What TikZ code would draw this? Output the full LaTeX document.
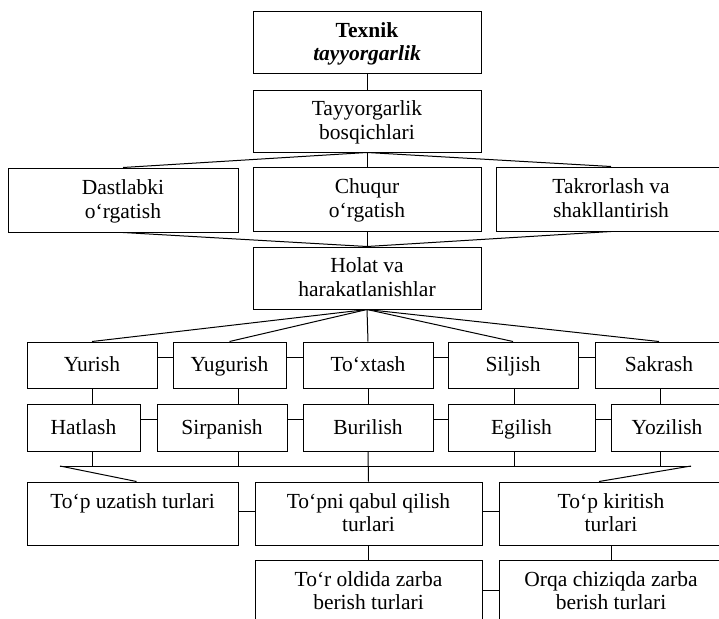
\documentclass[tikz,border=0pt]{standalone}
\usepackage{fontspec}
\setmainfont{Liberation Serif}
\newcommand{\st}{\rule[-5pt]{0pt}{23pt}}
\begin{document}
\begin{tikzpicture}[x=1pt,y=-1pt,
  box/.style={draw, line width=1pt, inner sep=0pt, align=center,
    font=\fontsize{21.5}{23.5}\selectfont},
  conn/.style={line width=1pt}]
\useasboundingbox (0,0) rectangle (719,618);
% top part
\node[box, minimum width=228, minimum height=61] (top) at (367,42.5) {\st\textbf{Texnik}\\\st\textbf{\textit{tayyorgarlik}}};
\node[box, minimum width=228, minimum height=62] (b2) at (367,121) {\st Tayyorgarlik\\\st bosqichlari};
\node[box, minimum width=230, minimum height=64] (dast) at (123,200) {\st Dastlabki\\\st o‘rgatish};
\node[box, minimum width=228, minimum height=64] (chuq) at (367,199) {\st Chuqur\\\st o‘rgatish};
\node[box, minimum width=230, minimum height=64] (takr) at (611,199) {\st Takrorlash va\\\st shakllantirish};
\node[box, minimum width=228, minimum height=62] (holat) at (367,278) {\st Holat va\\\st harakatlanishlar};
% row 5
\node[box, minimum width=130, minimum height=46] (yur) at (92,365) {\st Yurish};
\node[box, minimum width=113, minimum height=46] (yug) at (229.5,365) {\st Yugurish};
\node[box, minimum width=130, minimum height=46] (tox) at (368,365) {\st To‘xtash};
\node[box, minimum width=130, minimum height=46] (sil) at (513,365) {\st Siljish};
\node[box, minimum width=128, minimum height=46] (sak) at (659,365) {\st Sakrash};
% row 6
\node[box, minimum width=113, minimum height=47] (hat) at (83.5,427.5) {\st Hatlash};
\node[box, minimum width=130, minimum height=47] (sir) at (222,427.5) {\st Sirpanish};
\node[box, minimum width=130, minimum height=47] (bur) at (368,427.5) {\st Burilish};
\node[box, minimum width=147, minimum height=47] (egi) at (521.5,427.5) {\st Egilish};
\node[box, minimum width=112, minimum height=47] (yoz) at (667,427.5) {\st Yozilish};
% row 7
\node[box, minimum width=211, minimum height=63] (uza) at (132.5,513.5) {\st To‘p uzatish turlari\\\st};
\node[box, minimum width=227, minimum height=63] (qab) at (368.5,513.5) {\st To‘pni qabul qilish\\\st turlari};
\node[box, minimum width=224, minimum height=63] (kir) at (611,513.5) {\st To‘p kiritish\\\st turlari};
% row 8
\node[box, minimum width=227, minimum height=63] (tor) at (368.5,591.5) {\st To‘r oldida zarba\\\st berish turlari};
\node[box, minimum width=224, minimum height=63] (orq) at (611,591.5) {\st Orqa chiziqda zarba\\\st berish turlari};

% connectors top
\draw[conn] (top.south) -- (b2.north);
\draw[conn] (b2.south) -- (dast.north);
\draw[conn] (b2.south) -- (chuq.north);
\draw[conn] (b2.south) -- (takr.north);
\draw[conn] (dast.south) -- (holat.north);
\draw[conn] (chuq.south) -- (holat.north);
\draw[conn] (takr.south) -- (holat.north);
% fan to row 5
\foreach \n in {yur,yug,tox,sil,sak}
  \draw[conn] (holat.south) -- (\n.north);
% row 5 horizontal links
\draw[conn] ([yshift=8pt]yur.east) -- ([yshift=8pt]yur.east -| yug.west);
\draw[conn] ([yshift=8pt]yug.east) -- ([yshift=8pt]yug.east -| tox.west);
\draw[conn] ([yshift=8pt]tox.east) -- ([yshift=8pt]tox.east -| sil.west);
\draw[conn] ([yshift=8pt]sil.east) -- ([yshift=8pt]sil.east -| sak.west);
% row 6 horizontal links
\draw[conn] ([yshift=8pt]hat.east) -- ([yshift=8pt]hat.east -| sir.west);
\draw[conn] ([yshift=8pt]sir.east) -- ([yshift=8pt]sir.east -| bur.west);
\draw[conn] ([yshift=8pt]bur.east) -- ([yshift=8pt]bur.east -| egi.west);
\draw[conn] ([yshift=8pt]egi.east) -- ([yshift=8pt]egi.east -| yoz.west);
% vertical links row 5 -> row 6 -> bus
\coordinate (busL) at (60,466);
\coordinate (busR) at (691,466);
\coordinate (v1) at (yur.south);
\coordinate (v2) at ([xshift=8.5pt]yug.south);
\coordinate (v3) at (tox.south);
\coordinate (v4) at ([xshift=1pt]sil.south);
\coordinate (v5) at ([xshift=1pt]sak.south);
\draw[conn] (v1) -- (v1 |- hat.north);
\draw[conn] (v2) -- (v2 |- sir.north);
\draw[conn] (v3) -- (v3 |- bur.north);
\draw[conn] (v4) -- (v4 |- egi.north);
\draw[conn] (v5) -- (v5 |- yoz.north);
\draw[conn] (v1 |- hat.south) -- (v1 |- busL);
\draw[conn] (v2 |- sir.south) -- (v2 |- busL);
\draw[conn] (v4 |- egi.south) -- (v4 |- busL);
\draw[conn] (v5 |- yoz.south) -- (v5 |- busL);
\draw[conn] (busL) -- (busR);
\draw[conn] (bur.south) -- (qab.north);
\draw[conn] (busL) -- ([xshift=4pt]uza.north);
\draw[conn] (busR) -- ([xshift=-12pt]kir.north);
% row 7 / 8 links
\draw[conn] ([yshift=2pt]uza.east) -- ([yshift=2pt]uza.east -| qab.west);
\draw[conn] ([yshift=2pt]qab.east) -- ([yshift=2pt]qab.east -| kir.west);
\draw[conn] (qab.south) -- (tor.north);
\draw[conn] (kir.south) -- (orq.north);
\draw[conn] ([yshift=1.5pt]tor.east) -- ([yshift=1.5pt]tor.east -| orq.west);
\end{tikzpicture}
\end{document}
